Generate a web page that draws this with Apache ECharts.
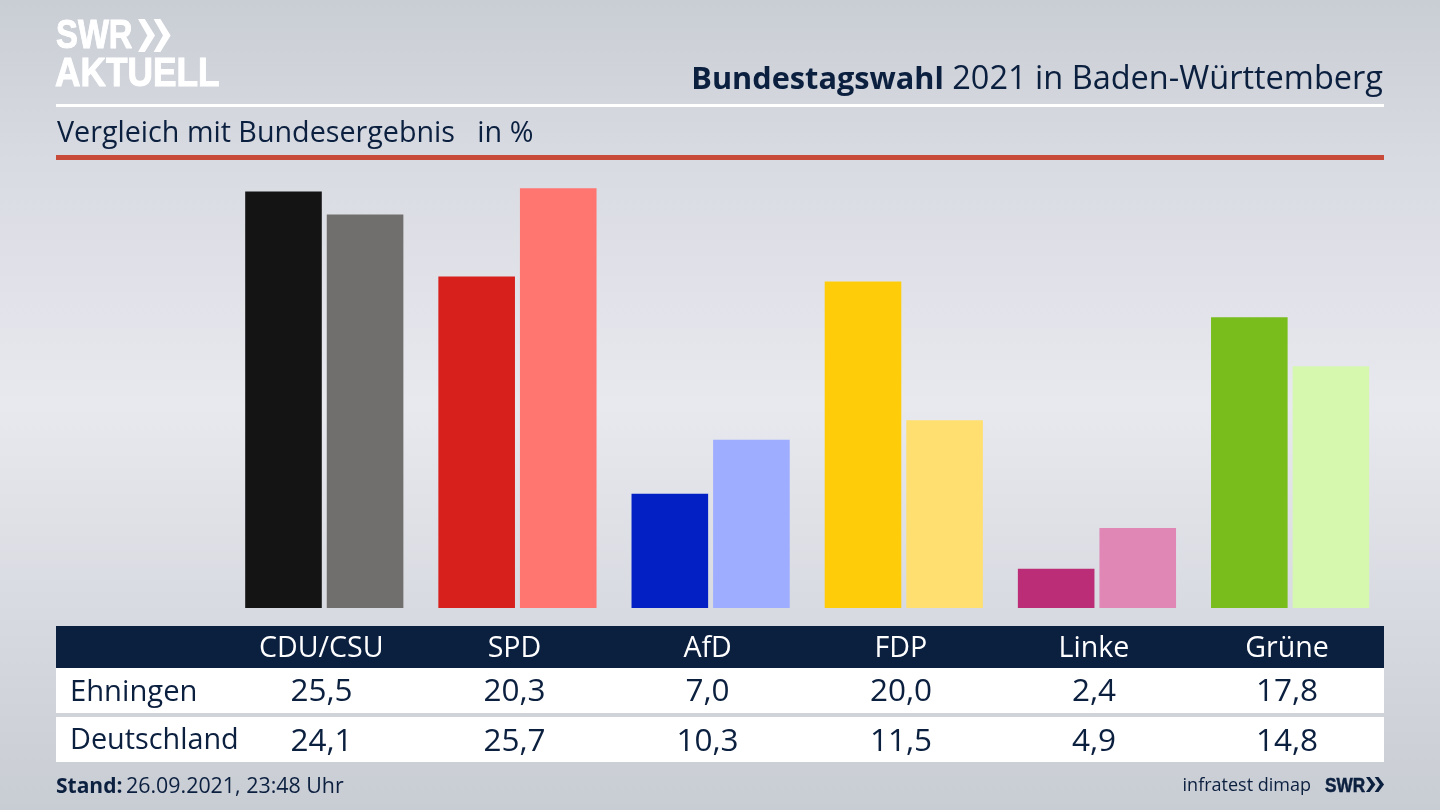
<!DOCTYPE html>
<html>
<head>
<meta charset="utf-8">
<style>html,body{margin:0;padding:0;background:#d8dae1}#chart1{width:1440px;height:810px}</style>
<script src="https://cdn.jsdelivr.net/npm/echarts@6/dist/echarts.min.js"></script>
</head>
<body>
<div id="chart1"></div>
<script>
var categories = ['CDU/CSU', 'SPD', 'AfD', 'FDP', 'Linke', 'Grüne'];
var ehningen = [25.5, 20.3, 7.0, 20.0, 2.4, 17.8];
var deutschland = [24.1, 25.7, 10.3, 11.5, 4.9, 14.8];
var rowNames = ['Ehningen', 'Deutschland'];
var colorsDark = ['#141414', '#d71f1c', '#0220c4', '#ffcc0a', '#bb2d76', '#78bd1c'];
var colorsLight = ['#706f6d', '#ff7570', '#9eadff', '#ffdf70', '#e087b6', '#d5f7ae'];

var navy = '#0b1f3f';
var font = '"Open Sans"';
var columnX = [321.5, 514.5, 707.5, 901, 1094, 1287];

function fmt(v) {
	return v.toFixed(1).replace('.', ',');
}

var chart1 = echarts.init(document.getElementById('chart1'));

function label(x, y, text, size, align, color, weight) {
	return {
		type: 'text',
		z: 5,
		x: x,
		y: y,
		style: {
			text: text,
			fill: color || navy,
			font: (weight || 'normal') + ' ' + size + 'px ' + font,
			align: align || 'left',
			verticalAlign: 'middle'
		}
	};
}

function box(x, y, w, h, color) {
	return { type: 'rect', z: 1, shape: { x: x, y: y, width: w, height: h }, style: { fill: color } };
}

function logoText(x, y, text, size, color, scaleX) {
	return {
		type: 'text',
		z: 5,
		x: x,
		y: y,
		scaleX: scaleX,
		style: {
			text: text,
			fill: color,
			font: 'bold ' + size + 'px "Liberation Sans"',
			verticalAlign: 'middle',
			stroke: color,
			lineWidth: size / 40
		}
	};
}

function chevrons(x, y, h, w, color) {
	// the two arrows of the SWR logo
	var list = [];
	[0, w * 0.92].forEach(function (dx) {
		list.push({
			type: 'polygon',
			z: 5,
			shape: { points: [
				[x + dx, y], [x + dx + w * 0.4, y], [x + dx + w, y + h / 2],
				[x + dx + w * 0.4, y + h], [x + dx, y + h], [x + dx + w * 0.55, y + h / 2]
			] },
			style: { fill: color }
		});
	});
	return list;
}

var elements = [
	box(56, 104, 1328, 3, '#ffffff'),
	box(56, 155, 1328, 5, '#c84b3a'),
	box(56, 626, 1328, 42, navy),
	box(56, 668, 1328, 45, '#ffffff'),
	box(56, 717, 1328, 45, '#ffffff'),
	logoText(56, 37, 'SWR', 41, '#ffffff', 0.8),
	logoText(55, 75, 'AKTUELL', 41, '#ffffff', 0.86),
	{
		type: 'text', z: 5, x: 1383, y: 80,
		style: {
			text: '{b|Bundestagswahl} 2021 in Baden-Württemberg',
			font: '32.5px ' + font,
			fill: navy,
			align: 'right',
			verticalAlign: 'middle',
			rich: { b: { font: 'bold 30.7px ' + font, fill: navy } }
		}
	},
	label(57, 134, 'Vergleich mit Bundesergebnis   in %', 28.7),
	label(70, 693, rowNames[0], 29.2),
	label(70, 741, rowNames[1], 28.8),
	label(56, 787, 'Stand:', 21, 'left', navy, 'bold'),
	label(126, 787, '26.09.2021, 23:48 Uhr', 21.4),
	label(1311, 786, 'infratest dimap', 18, 'right'),
	logoText(1325, 786, 'SWR', 20, navy, 0.86)
].concat(chevrons(138, 19, 33, 17, '#ffffff'), chevrons(1366, 777, 15, 9.4, navy));

columnX.forEach(function (x, i) {
	elements.push(label(x, 692, fmt(ehningen[i]), 31.5, 'center'));
	elements.push(label(x, 742, fmt(deutschland[i]), 31.5, 'center'));
});

var option = {
	animation: false,
	backgroundColor: new echarts.graphic.LinearGradient(0, 0, 0, 1, [
		{ offset: 0, color: '#c9cdd4' },
		{ offset: 0.2, color: '#d9dbe2' },
		{ offset: 0.5, color: '#e8e9ef' },
		{ offset: 1, color: '#c8ccd3' }
	]),
	grid: { left: 227.7, top: 183.4, width: 1159, height: 424.6 },
	xAxis: {
		type: 'category',
		data: categories,
		axisLine: { show: false },
		axisTick: { show: false },
		axisLabel: {
			color: '#ffffff',
			fontFamily: font,
			fontSize: 28.6,
			margin: 26,
			padding: [0, 6, 0, 0],
			interval: 0
		},
		z: 10
	},
	yAxis: {
		type: 'value',
		min: 0,
		max: 26,
		show: false
	},
	graphic: elements,
	series: [{
		name: rowNames[0],
		type: 'bar',
		data: ehningen,
		barWidth: 76.6,
		barGap: '6.5%',
		itemStyle: {
			color: function (p) { return colorsDark[p.dataIndex]; }
		}
	}, {
		name: rowNames[1],
		type: 'bar',
		data: deutschland,
		barWidth: 76.6,
		itemStyle: {
			color: function (p) { return colorsLight[p.dataIndex]; }
		}
	}]
};
chart1.setOption(option);
</script>
</body>
</html>
